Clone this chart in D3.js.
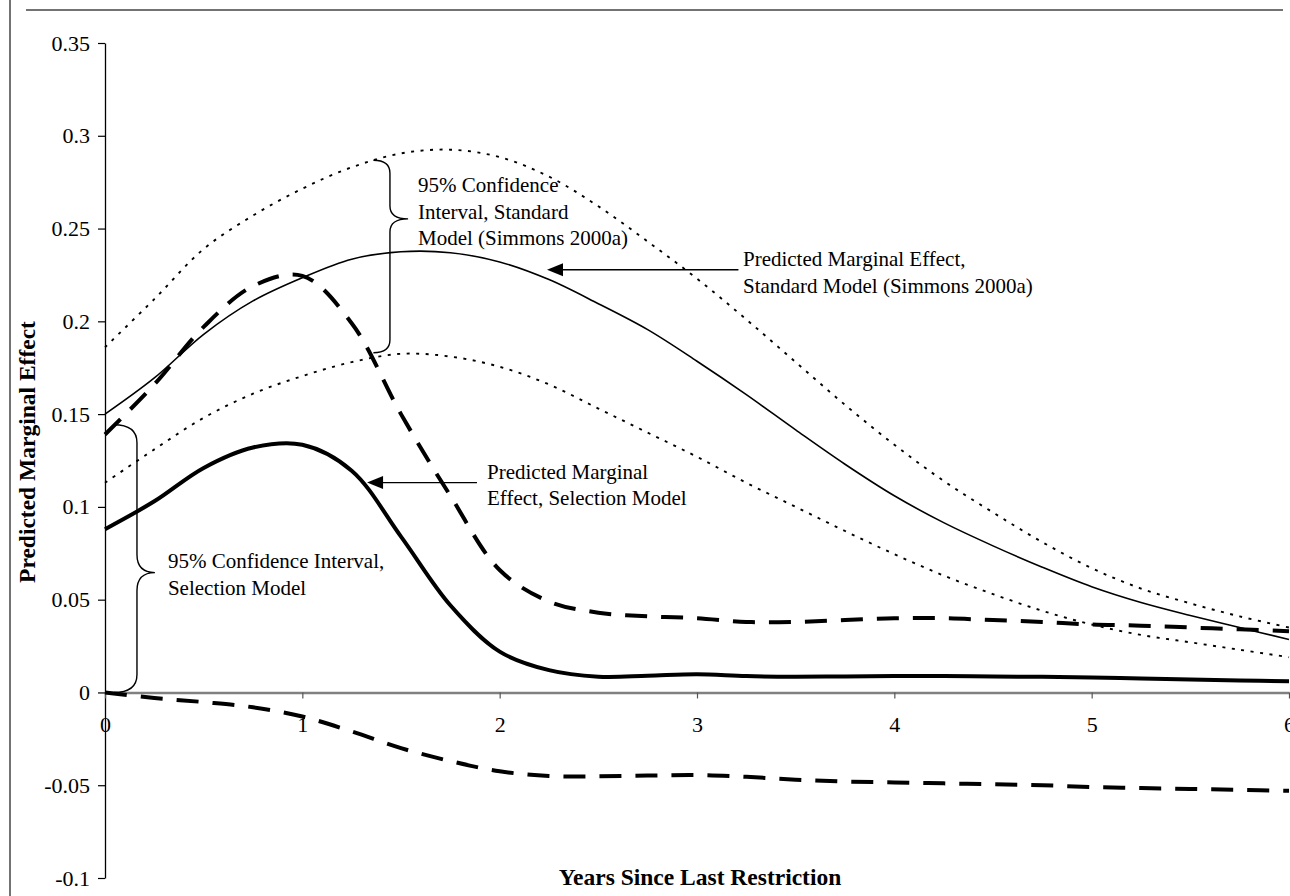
<!DOCTYPE html>
<html>
<head>
<meta charset="utf-8">
<script src="https://cdn.jsdelivr.net/npm/d3@7"></script>
<style>
  html, body { margin: 0; padding: 0; background: #fff; }
  svg { display: block; }
  text { font-family: "Liberation Serif", "Times New Roman", serif; fill: #000; }
</style>
</head>
<body>
<svg id="chart" width="1290" height="896"></svg>
<script>
// ---------------- data ----------------
const years = [0, 0.25, 0.5, 0.75, 1, 1.25, 1.5, 1.75, 2, 2.25, 2.5, 2.75, 3,
               3.25, 3.5, 3.75, 4, 4.25, 4.5, 4.75, 5, 5.25, 5.5, 5.75, 6];

// Predicted marginal effect, standard model (thin solid)
const stdPred  = [0.150, 0.1695, 0.193, 0.211, 0.2235, 0.2335, 0.2375, 0.237, 0.232, 0.2225, 0.2095, 0.1955, 0.1785,
                  0.1605, 0.1415, 0.123, 0.106, 0.0915, 0.079, 0.0675, 0.057, 0.0485, 0.0415, 0.035, 0.0285];
// 95% CI standard model, upper (dotted)
const stdUpper = [0.186, 0.212, 0.239, 0.257, 0.2715, 0.283, 0.2905, 0.2925, 0.2885, 0.278, 0.262, 0.243, 0.223,
                  0.201, 0.178, 0.155, 0.1335, 0.114, 0.097, 0.081, 0.067, 0.056, 0.048, 0.041, 0.035];
// 95% CI standard model, lower (dotted)
const stdLower = [0.113, 0.131, 0.148, 0.161, 0.1705, 0.178, 0.1825, 0.181, 0.1755, 0.166, 0.153, 0.140, 0.127,
                  0.113, 0.100, 0.087, 0.0745, 0.063, 0.053, 0.044, 0.0366, 0.031, 0.027, 0.023, 0.019];
// Predicted marginal effect, selection model (thick solid)
const selPred  = [0.088, 0.103, 0.121, 0.132, 0.1335, 0.1195, 0.084, 0.047, 0.022, 0.012, 0.0085, 0.009, 0.0098,
                  0.0088, 0.0085, 0.0086, 0.0088, 0.0088, 0.0086, 0.0084, 0.008, 0.0075, 0.007, 0.0065, 0.006];
// 95% CI selection model, upper (thick dashed)
const selUpper = [0.139, 0.166, 0.197, 0.219, 0.2245, 0.199, 0.150, 0.106, 0.066, 0.049, 0.043, 0.041, 0.040,
                  0.038, 0.038, 0.039, 0.040, 0.040, 0.039, 0.038, 0.0366, 0.036, 0.035, 0.034, 0.033];
// 95% CI selection model, lower (thick dashed)
const selLower = [0, -0.003, -0.0052, -0.008, -0.013, -0.021, -0.030, -0.037, -0.0425, -0.045, -0.0452, -0.0448, -0.0445,
                  -0.0455, -0.047, -0.048, -0.0485, -0.049, -0.0495, -0.050, -0.051, -0.0515, -0.052, -0.0525, -0.053];

const xTicks = [0, 1, 2, 3, 4, 5, 6];
const xTickLabels = ["0", "1", "2", "3", "4", "5", "6"];
const yTicks = [-0.1, -0.05, 0, 0.05, 0.1, 0.15, 0.2, 0.25, 0.3, 0.35];
const yTickLabels = ["-0.1", "-0.05", "0", "0.05", "0.1", "0.15", "0.2", "0.25", "0.3", "0.35"];

const xTitle = "Years Since Last Restriction";
const yTitle = "Predicted Marginal Effect";

// ---------------- layout ----------------
const FONT = "'Liberation Serif', 'Times New Roman', serif";
const svg = d3.select("#chart");
const x = d3.scaleLinear().domain([0, 6]).range([105, 1289]);
const y = d3.scaleLinear().domain([-0.1, 0.35]).range([878, 43]);

// frame remnants
svg.append("line").attr("x1", 10).attr("x2", 10).attr("y1", 0).attr("y2", 896)
   .attr("stroke", "#444").attr("stroke-width", 1.5);
svg.append("line").attr("x1", 26).attr("x2", 1283).attr("y1", 10).attr("y2", 10)
   .attr("stroke", "#444").attr("stroke-width", 1.5);

// y axis
const yAxis = d3.axisLeft(y).tickValues(yTicks)
  .tickFormat((d, i) => yTickLabels[i]).tickSize(7).tickSizeOuter(0).tickPadding(8);
const gy = svg.append("g").attr("transform", `translate(${x(0)},0)`).call(yAxis);
gy.attr("font-family", null).attr("font-size", null);
gy.select(".domain").attr("stroke", "#000").attr("stroke-width", 1.3);
gy.selectAll(".tick line").attr("stroke", "#000").attr("stroke-width", 1.2);
gy.selectAll(".tick text").style("font-family", FONT).style("font-size", "22px").attr("fill", "#000");

// x axis at y=0
const xAxis = d3.axisBottom(x).tickValues(xTicks)
  .tickFormat((d, i) => xTickLabels[i]).tickSize(6).tickSizeOuter(0).tickPadding(18);
const gx = svg.append("g").attr("transform", `translate(0,${y(0)})`).call(xAxis);
gx.attr("font-family", null).attr("font-size", null);
gx.select(".domain").attr("stroke", "#808080").attr("stroke-width", 2.6);
gx.selectAll(".tick line").attr("stroke", "#555").attr("stroke-width", 1.2);
gx.selectAll(".tick text").style("font-family", FONT).style("font-size", "22px").attr("fill", "#000");

// ---------------- series ----------------
const line = d3.line().x(d => x(d[0])).y(d => y(d[1])).curve(d3.curveCatmullRom.alpha(0.5));
const series = [
  { vals: stdUpper, width: 1.9, dash: "3,6.5" },
  { vals: stdLower, width: 1.9, dash: "3,6.5" },
  { vals: stdPred,  width: 1.6, dash: null },
  { vals: selUpper, width: 4,   dash: "22,14" },
  { vals: selLower, width: 4,   dash: "22,14" },
  { vals: selPred,  width: 4,   dash: null }
];
series.forEach(s => {
  svg.append("path")
    .datum(years.map((yr, i) => [yr, s.vals[i]]))
    .attr("d", line)
    .attr("fill", "none")
    .attr("stroke", "#000")
    .attr("stroke-width", s.width)
    .attr("stroke-dasharray", s.dash)
    .attr("stroke-linejoin", "round");
});

// ---------------- annotations ----------------
function brace(hx, bx, tx, top, tipY, bottom, r) {
  const p = d3.path();
  p.moveTo(x(hx), y(top));
  p.quadraticCurveTo(x(bx), y(top), x(bx), y(top) + r);
  p.lineTo(x(bx), y(tipY) - r);
  p.quadraticCurveTo(x(bx), y(tipY), x(tx), y(tipY));
  p.quadraticCurveTo(x(bx), y(tipY), x(bx), y(tipY) + r);
  p.lineTo(x(bx), y(bottom) - r);
  p.quadraticCurveTo(x(bx), y(bottom), x(hx), y(bottom));
  svg.append("path").attr("d", p.toString()).attr("fill", "none")
     .attr("stroke", "#000").attr("stroke-width", 1.4);
}
brace(1.36, 1.444, 1.536, 0.2868, 0.2552, 0.1831, 13);
brace(0.045, 0.162, 0.253, 0.1443, 0.0646, 0, 18);

function arrow(x1, x2, yv) {
  const tipX = x(x2), py = y(yv), tailX = x(x1);
  svg.append("line").attr("x1", tailX).attr("x2", tipX + 14).attr("y1", py).attr("y2", py)
     .attr("stroke", "#000").attr("stroke-width", 1.3);
  svg.append("path")
     .attr("d", `M${tipX},${py} L${tipX + 16},${py - 6.5} L${tipX + 16},${py + 6.5} Z`)
     .attr("fill", "#000");
}
arrow(3.21, 2.24, 0.2278);
arrow(1.885, 1.328, 0.1131);

function label(lines, xv, yv) {
  const t = svg.append("text").attr("x", x(xv)).attr("y", y(yv))
    .style("font-family", FONT).style("font-size", "21px");
  lines.forEach((s, i) => {
    t.append("tspan").attr("x", x(xv)).attr("dy", i === 0 ? 0 : 26.7).text(s);
  });
}
label(["95% Confidence", "Interval, Standard", "Model (Simmons 2000a)"], 1.586, 0.2698);
label(["Predicted Marginal Effect,", "Standard Model (Simmons 2000a)"], 3.233, 0.2298);
label(["Predicted Marginal", "Effect, Selection Model"], 1.936, 0.1152);
label(["95% Confidence Interval,", "Selection Model"], 0.319, 0.0668);

// ---------------- titles ----------------
svg.append("text").attr("x", 700).attr("y", 885).attr("text-anchor", "middle")
   .style("font-family", FONT).style("font-size", "23.5px").style("font-weight", "bold").text(xTitle);
svg.append("text").attr("transform", "translate(35,452) rotate(-90)").attr("text-anchor", "middle")
   .style("font-family", FONT).style("font-size", "23.5px").style("font-weight", "bold").text(yTitle);
</script>
</body>
</html>
